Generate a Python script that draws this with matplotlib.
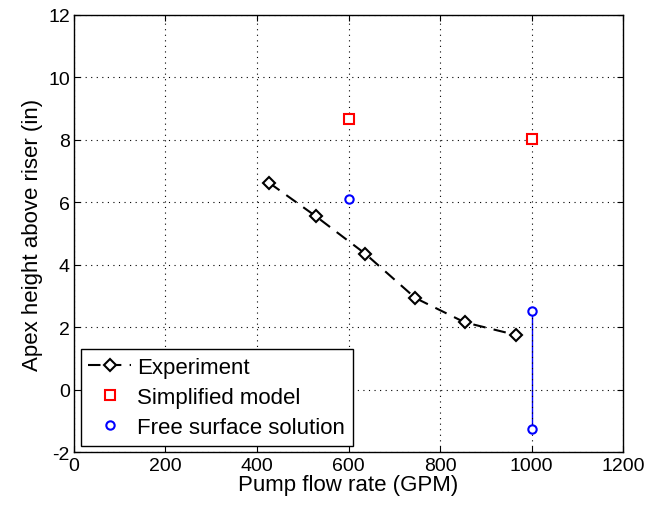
import numpy as np
import matplotlib
matplotlib.use('Agg')
import matplotlib.pyplot as plt

plt.rcParams['font.family'] = ['Liberation Sans', 'DejaVu Sans']
plt.rcParams['axes.unicode_minus'] = False

# experiment
exp_q = [427, 529, 637, 746, 854, 965]
exp_h = [6.62, 5.55, 4.35, 2.94, 2.16, 1.76]
# simplified model
sm_q = [600, 1000]
sm_h = [8.66, 8.02]
# free surface solution
fs_q = [600, 1000, 1000]
fs_h = [6.10, 2.51, -1.25]

fig = plt.figure(figsize=(6.49, 5.10), dpi=100)
ax = fig.add_axes([0.1140, 0.111, 0.8460, 0.858])

ax.plot(exp_q, exp_h, c='k', linestyle=(0, (6, 4)), linewidth=1.5, marker='D', markersize=6,
        markerfacecolor='white', markeredgecolor='k', markeredgewidth=1.5, label='Experiment')
ax.plot(sm_q, sm_h, linestyle='none', marker='s', markersize=7, markerfacecolor='white',
        markeredgecolor='#ff0000', markeredgewidth=1.5, label='Simplified model')
ax.plot(fs_q, fs_h, linestyle='none', marker='o', markersize=6, markerfacecolor='white',
        markeredgecolor='#0000ff', markeredgewidth=1.5, label='Free surface solution')
ax.plot(fs_q[1:], fs_h[1:], c='#0000ff', linewidth=1, zorder=1.5)

ax.set_xlim(0, 1200)
ax.set_ylim(-2, 12)
ax.set_xticks(range(0, 1201, 200))
ax.set_yticks(range(-2, 13, 2))
ax.grid(True, color='k', linestyle=(0, (1, 4)), linewidth=0.8)
ax.tick_params(direction='in', labelsize=14, length=4, top=True, right=True, pad=3)
for s in ax.spines.values():
    s.set_linewidth(1)
ax.set_xlabel('Pump flow rate (GPM)', fontsize=16, labelpad=0)
ax.set_ylabel('Apex height above riser (in)', fontsize=16, labelpad=4)

leg = ax.legend(loc='lower left', fontsize=16, fancybox=False, framealpha=1, edgecolor='k',
                borderaxespad=0.3, handlelength=1.9, handletextpad=0.3, labelspacing=0.4,
                borderpad=0.35)
leg.get_frame().set_linewidth(1)

plt.savefig('out.png', dpi=100)
